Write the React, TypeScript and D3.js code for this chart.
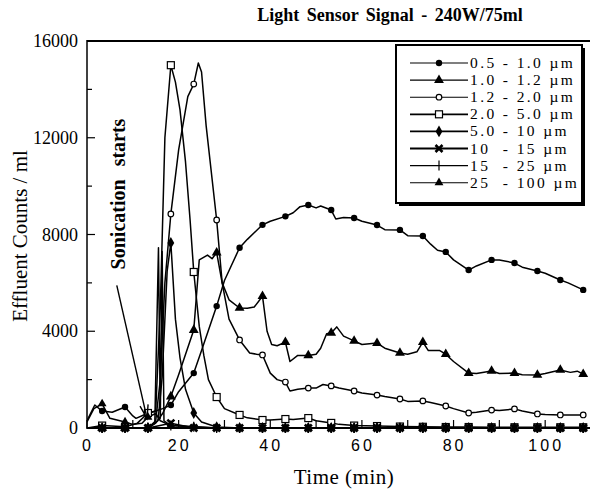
import React from "react";
import * as d3 from "d3";

const W = 590;
const H = 492;

// times (min) where the markers sit
const MARKER_T = [3.3, 8.3, 13.3, 18.3, 23.3, 28.3, 33.3, 38.3, 43.3, 48.3, 53.3, 58.3, 63.3, 68.3, 73.3, 78.3, 83.3, 88.3, 93.3, 98.3, 103.3, 108.3];

const X_TICKS = [0, 20, 40, 60, 80, 100];
const X_MINOR = [10, 30, 50, 70, 90];
const Y_TICKS = [0, 4000, 8000, 12000, 16000];
const Y_MINOR = [2000, 6000, 10000, 14000];

const LABELS = ["0.5 - 1.0 \u00b5m", "1.0 - 1.2 \u00b5m", "1.2 - 2.0 \u00b5m", "2.0 - 5.0 \u00b5m", "5.0 - 10 \u00b5m", "10  - 15 \u00b5m", "15  - 25 \u00b5m", "25  - 100 \u00b5m"];

const s05_10 = [[0, 300], [1.7, 950], [3.3, 700], [5.5, 650], [8.3, 870], [10, 500], [10.7, 400], [12.5, 550], [13.3, 600], [15, 700], [16.5, 800], [18.3, 950], [20, 1500], [23.3, 2270], [25, 3200], [28.3, 5040], [30, 6100], [33.3, 7450], [35, 7800], [38.3, 8400], [40, 8550], [43.3, 8750], [45, 8900], [46.5, 9150], [48.3, 9220], [50, 9100], [51, 9180], [53.3, 9010], [54.3, 8640], [56, 8700], [58.3, 8680], [60, 8550], [63.3, 8390], [65, 8200], [68.3, 8190], [70, 7950], [73.3, 7940], [75, 7600], [76.5, 7350], [78.3, 7280], [80, 6950], [83.3, 6530], [85, 6700], [88.3, 6950], [90, 6950], [93.3, 6820], [95, 6650], [98.3, 6490], [100, 6400], [103.3, 6120], [105, 6000], [108.3, 5710]];

const s10_12 = [[0, 0], [3.3, 0], [8.3, 0], [13.3, 0], [15, 200], [16.5, 600], [18.3, 1300], [20, 2200], [23.3, 4050], [24.5, 6950], [26.3, 7150], [27.3, 7000], [28.3, 7250], [29.5, 6000], [31, 5300], [33.3, 4960], [35, 4950], [36.5, 5000], [38.3, 5450], [39.3, 4000], [40.3, 3450], [41.5, 3400], [43.3, 3550], [44.3, 2750], [46, 3000], [48.3, 3000], [50, 3050], [51, 3300], [52.3, 3900], [53.3, 3930], [54.5, 4180], [56, 3800], [58.3, 3600], [60, 3450], [63.3, 3510], [65, 3300], [68.3, 3100], [70, 3050], [72, 3150], [73.3, 3550], [74.5, 3200], [77, 3200], [78.3, 3050], [80, 2750], [83.3, 2270], [85, 2250], [88.3, 2360], [90, 2250], [93.3, 2270], [95, 2200], [98.3, 2190], [100, 2250], [103.3, 2400], [105.5, 2300], [107, 2350], [108.3, 2230]];

const s12_20 = [[0, 0], [3.3, 0], [8.3, 0], [13.3, 0], [15, 300], [16, 2000], [17, 6000], [18.3, 8850], [20, 11500], [22, 13700], [23.3, 14220], [24.3, 15090], [25, 14720], [26, 12500], [28.3, 8600], [29.5, 6000], [31, 4500], [33.3, 3640], [35.5, 3100], [37, 3050], [38.3, 3020], [40, 2270], [41.5, 2000], [43.3, 1900], [44.3, 1530], [46, 1600], [48.3, 1650], [50, 1650], [51.5, 1800], [53.3, 1740], [55, 1650], [58.3, 1530], [60, 1450], [63.3, 1360], [65, 1300], [68.3, 1200], [70, 1100], [73.3, 1120], [75, 1050], [78.3, 910], [80, 800], [83.3, 620], [85, 650], [88.3, 740], [90, 720], [93.3, 790], [95, 700], [98.3, 580], [100, 560], [103.3, 540], [105, 540], [108.3, 540]];

const s20_50 = [[0, 0], [3.3, 100], [8.3, 50], [11, 200], [13.3, 620], [15, 700], [16, 5000], [17, 12000], [18.3, 15000], [19.3, 14300], [20.3, 13150], [21.5, 11000], [22.5, 8600], [23.3, 6450], [24.5, 4200], [25.5, 3000], [26.5, 2000], [28.3, 1280], [30, 800], [33.3, 540], [35, 420], [38.3, 330], [40, 330], [43.3, 370], [45, 350], [48.3, 410], [50, 300], [53.3, 210], [55, 150], [58.3, 100], [63.3, 80], [68.3, 60], [73.3, 50], [78.3, 40], [83.3, 40], [88.3, 30], [93.3, 30], [98.3, 30], [103.3, 30], [108.3, 30]];

const s50_10 = [[0, 0], [3.3, 0], [8.3, 0], [13.3, 0], [15.5, 300], [16.4, 2100], [17.5, 6500], [18.3, 7650], [19.3, 4500], [20.3, 2900], [21.5, 1600], [23.3, 620], [25, 250], [28.3, 40], [33.3, 0], [38.3, 0], [43.3, 0], [48.3, 0], [53.3, 0], [58.3, 0], [63.3, 0], [68.3, 0], [73.3, 0], [78.3, 0], [83.3, 0], [88.3, 0], [93.3, 0], [98.3, 0], [103.3, 0], [108.3, 0]];

const s10_15 = [[0, 0], [3.3, 0], [8.3, 0], [13.3, 0], [18.3, 200], [23.3, 0], [28.3, 0], [33.3, 0], [38.3, 0], [43.3, 0], [48.3, 0], [53.3, 0], [58.3, 0], [63.3, 0], [68.3, 0], [73.3, 0], [78.3, 0], [83.3, 0], [88.3, 0], [93.3, 0], [98.3, 0], [103.3, 0], [108.3, 0]];

const s15_25 = [[0, 0], [3.3, 0], [8.3, 0], [13.3, 0], [14.8, 200], [15.6, 7450], [16.0, 400], [16.4, 7300], [16.8, 300], [18.3, 100], [23.3, 50], [28.3, 0], [33.3, 0], [38.3, 0], [43.3, 0], [48.3, 0], [53.3, 0], [58.3, 0], [63.3, 0], [68.3, 0], [73.3, 0], [78.3, 0], [83.3, 0], [88.3, 0], [93.3, 0], [98.3, 0], [103.3, 0], [108.3, 0]];

const s25_100 = [[0, 250], [1.5, 800], [3.3, 1000], [5, 400], [8.3, 250], [10, 150], [12, 200], [13.3, 450], [15, 600], [16, 300], [18.3, 100], [23.3, 50], [28.3, 0], [33.3, 0], [38.3, 0], [43.3, 0], [48.3, 0], [53.3, 0], [58.3, 0], [63.3, 0], [68.3, 0], [73.3, 0], [78.3, 0], [83.3, 0], [88.3, 0], [93.3, 0], [98.3, 0], [103.3, 0], [108.3, 0]];

const SERIES = [s05_10, s10_12, s12_20, s20_50, s50_10, s10_15, s15_25, s25_100];
const MARKS = ["dot", "tri", "ring", "box", "diamond", "cross", "bar", "tri2"];

const serif = "Liberation Serif, DejaVu Serif, serif";
const sans = "Liberation Sans, Arial, sans-serif";

const x = d3.scaleLinear().domain([0, 110]).range([87, 591]);
const y = d3.scaleLinear().domain([0, 16000]).range([428, 41]);

function Marker({ kind, cx, cy }) {
  const t = `translate(${cx},${cy})`;
  if (kind === "dot") return <circle cx={cx} cy={cy} r={3.2} fill="#000" />;
  if (kind === "ring") return <circle cx={cx} cy={cy} r={2.8} fill="#fff" stroke="#000" strokeWidth={1.2} />;
  if (kind === "tri") return <path transform={t} d={d3.symbol(d3.symbolTriangle, 42)()} fill="#000" />;
  if (kind === "tri2") return <path transform={t} d={d3.symbol(d3.symbolTriangle, 34)()} fill="#000" />;
  if (kind === "box") return <rect x={cx - 3.5} y={cy - 3.5} width={7} height={7} fill="#fff" stroke="#000" strokeWidth={1.2} />;
  if (kind === "diamond") return <path transform={t} d={d3.symbol(d3.symbolDiamond, 40)()} fill="#000" />;
  if (kind === "cross") return <path transform={t} d="M-3.5,-3.5L3.5,3.5M-3.5,3.5L3.5,-3.5" stroke="#000" strokeWidth={2.6} />;
  return <line x1={cx} x2={cx} y1={cy - 5} y2={cy + 5} stroke="#000" strokeWidth={1.2} />;
}

export default function App() {
  const line = d3.line().x((d) => x(d[0])).y((d) => y(d[1]));
  const legX = 396, legY = 45, legW = 186, legH = 158;
  const arrowFrom = [x(6.5), y(5900)];
  const arrowTo = [x(13.1), y(400)];
  const ang = Math.atan2(arrowTo[1] - arrowFrom[1], arrowTo[0] - arrowFrom[0]);
  const head = [ang + Math.PI - 0.3, ang + Math.PI + 0.3].map((a) => [arrowTo[0] + 14 * Math.cos(a), arrowTo[1] + 14 * Math.sin(a)]);

  return (
    <svg width={W} height={H} style={{ position: "absolute", left: 0, top: 0, background: "#fff" }}>
      <defs>
        <clipPath id="plot">
          <rect x={87} y={38} width={505} height={395} />
        </clipPath>
      </defs>
      <text x={390} y={21} textAnchor="middle" fontFamily={serif} fontWeight="bold" fontSize={18} style={{ wordSpacing: 3 }}>
        Light Sensor Signal - 240W/75ml
      </text>

      {/* axes frame */}
      <line x1={87} x2={590} y1={41} y2={41} stroke="#000" strokeWidth={2} />
      <line x1={87} x2={590} y1={428} y2={428} stroke="#000" strokeWidth={2} />
      <line x1={87} x2={87} y1={40} y2={429} stroke="#000" strokeWidth={1.5} />

      {Y_TICKS.map((v) => (
        <g key={v}>
          <line x1={87} x2={95} y1={y(v)} y2={y(v)} stroke="#000" strokeWidth={1.2} />
          <text x={78} y={y(v) + 6} textAnchor="end" fontFamily={serif} fontSize={18}>{v}</text>
        </g>
      ))}
      {Y_MINOR.map((v) => (
        <line key={v} x1={87} x2={92} y1={y(v)} y2={y(v)} stroke="#000" strokeWidth={1.2} />
      ))}
      {X_TICKS.map((v) => (
        <g key={v}>
          <line x1={x(v)} x2={x(v)} y1={428} y2={420} stroke="#000" strokeWidth={1.2} />
          <text x={x(v) + 1} y={451} textAnchor="middle" fontFamily={sans} fontSize={16} style={{ letterSpacing: 3 }}>{v}</text>
        </g>
      ))}
      {X_MINOR.map((v) => (
        <line key={v} x1={x(v)} x2={x(v)} y1={428} y2={420} stroke="#000" strokeWidth={1.2} />
      ))}

      <text x={344} y={484} textAnchor="middle" fontFamily={serif} fontSize={21} style={{ letterSpacing: 0.5 }}>Time (min)</text>
      <text transform="translate(27,236) rotate(-90)" textAnchor="middle" fontFamily={serif} fontSize={21}>Effluent Counts / ml</text>

      <g clipPath="url(#plot)">
        {SERIES.map((s, i) => (
          <path key={i} d={line(s)} fill="none" stroke="#000" strokeWidth={1.5} strokeLinejoin="round" />
        ))}
        {SERIES.map((s, i) =>
          s.filter((d) => MARKER_T.includes(d[0])).map((d, j) => (
            <Marker key={i + "-" + j} kind={MARKS[i]} cx={x(d[0])} cy={y(d[1])} />
          ))
        )}
      </g>

      {/* annotation */}
      <text transform="translate(125,194) rotate(-90)" textAnchor="middle" fontFamily={serif} fontWeight="bold" fontSize={20} style={{ wordSpacing: 8 }}>
        Sonication starts
      </text>
      <line x1={arrowFrom[0]} y1={arrowFrom[1]} x2={arrowTo[0]} y2={arrowTo[1]} stroke="#000" strokeWidth={1.4} />
      <path d={`M${head[0][0]},${head[0][1]}L${arrowTo[0]},${arrowTo[1]}L${head[1][0]},${head[1][1]}`} fill="none" stroke="#000" strokeWidth={1.4} />

      {/* legend */}
      <rect x={legX + 3} y={legY + 3} width={legW} height={legH} fill="#000" />
      <rect x={legX} y={legY} width={legW} height={legH} fill="#fff" stroke="#000" strokeWidth={2} />
      {LABELS.map((lab, i) => {
        const ry = 63 + i * 17.1;
        return (
          <g key={lab}>
            <line x1={410} x2={468} y1={ry} y2={ry} stroke="#000" strokeWidth={i >= 3 && i <= 5 ? 1.8 : 1.1} />
            <Marker kind={MARKS[i]} cx={439} cy={ry} />
            <text x={470} y={ry + 5} fontFamily={serif} fontSize={15.5} style={{ letterSpacing: 2.4, whiteSpace: "pre" }}>{lab}</text>
          </g>
        );
      })}
    </svg>
  );
}
